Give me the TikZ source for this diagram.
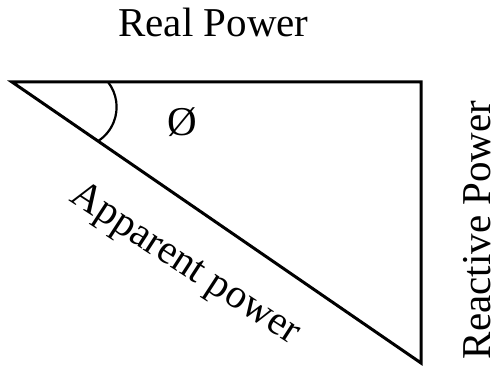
\documentclass[tikz,border=0pt]{standalone}
\usepackage{fontspec}
\setmainfont{Liberation Serif}
\begin{document}
\begin{tikzpicture}[x=1pt,y=1pt,
  lbl/.style={inner sep=0pt, font=\fontsize{41}{48}\selectfont},
  edge/.style={line width=3pt, line join=miter},
  arcline/.style={line width=2.2pt}]
\useasboundingbox (0,0) rectangle (492,367);
\coordinate (A) at (12,285);
\coordinate (B) at (421,285);
\coordinate (C) at (421,4);
\draw[edge] (A) -- (B) -- (C) -- cycle;
\draw[arcline] (108,285) arc[start angle=38, end angle=-57, radius=40.6];
\node[lbl, anchor=base] (real) at (213.5,330) {Real Power};
\node[lbl, anchor=base, rotate=90] (reac) at (490,137) {Reactive Power};
\node[lbl, anchor=base, rotate=-33] (app) at (179.5,94) {Apparent power};
\node[lbl] (phi) at (182,245) {Ø};
\end{tikzpicture}
\end{document}
